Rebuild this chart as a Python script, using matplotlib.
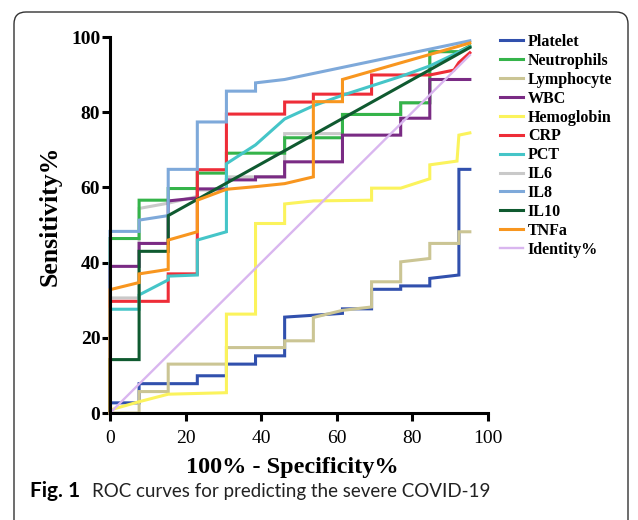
import matplotlib
matplotlib.use("Agg")
import matplotlib.pyplot as plt
from matplotlib.patches import FancyBboxPatch

# ROC vertices (100% - specificity, sensitivity) per marker
platelet_x = [0, 0, 7.7, 7.7, 23.1, 23.1, 30.8, 30.8, 38.5, 38.5, 46.2, 46.2, 61.5, 61.5, 69.2, 69.2,
              76.9, 76.9, 84.6, 84.6, 92.3, 92.3, 95.2]
platelet_y = [0, 2.7, 2.7, 7.8, 7.8, 9.9, 9.9, 13.0, 13.0, 15.2, 15.2, 25.5, 26.5, 27.7, 27.7, 32.9,
              32.9, 33.8, 33.8, 35.8, 36.7, 64.8, 64.8]

neutro_x = [0, 0, 7.7, 7.7, 15.4, 15.4, 23.1, 23.1, 30.8, 30.8, 46.2, 46.2, 61.5, 61.5, 76.9, 76.9,
            84.6, 84.6, 92.3, 95.2]
neutro_y = [0, 46.4, 46.4, 56.6, 56.6, 59.7, 59.7, 63.8, 63.8, 69.1, 69.1, 73.2, 73.2, 79.4, 79.4, 82.5,
            82.5, 96.1, 96.1, 97.6]

lympho_x = [0, 7.7, 7.7, 15.4, 15.4, 30.8, 30.8, 46.2, 46.2, 53.8, 53.8, 61.5, 69.2, 69.2, 76.9, 76.9,
            84.6, 84.6, 92.3, 92.3, 95.2]
lympho_y = [0, 0, 5.7, 5.7, 13.0, 13.0, 17.4, 17.4, 19.2, 19.2, 25.4, 27.3, 28.2, 34.9, 34.9, 40.2,
            41.1, 45.1, 45.1, 48.2, 48.2]

wbc_x = [0, 0, 7.7, 7.7, 15.4, 15.4, 23.1, 23.1, 30.8, 30.8, 38.5, 38.5, 46.2, 46.2, 61.5, 61.5,
         76.9, 76.9, 84.6, 84.6, 95.2]
wbc_y = [0, 39.0, 39.0, 45.1, 45.1, 56.4, 57.2, 59.6, 59.6, 62.0, 62.0, 62.8, 62.8, 66.8, 66.8, 73.9,
         73.9, 78.4, 78.4, 88.7, 88.7]

hemo_x = [0, 7.7, 15.4, 30.8, 30.8, 38.5, 38.5, 46.2, 46.2, 53.8, 69.2, 69.2, 76.9, 84.6, 84.6, 91.8,
          92.3, 95.2]
hemo_y = [0.8, 3.0, 5.0, 5.4, 26.3, 26.3, 50.4, 50.4, 55.6, 56.4, 56.6, 59.8, 59.8, 62.3, 66.0, 67.0,
          73.9, 74.5]

crp_x = [0, 0, 15.4, 15.4, 23.1, 23.1, 30.8, 30.8, 46.2, 46.2, 53.8, 53.8, 69.2, 69.2, 84.6, 91.0,
         92.3, 95.2]
crp_y = [0, 29.7, 29.7, 37.0, 37.0, 64.7, 64.7, 79.5, 79.5, 82.7, 82.7, 84.8, 84.8, 89.9, 89.9, 91.2,
         93.2, 95.8]

pct_x = [0, 0, 7.7, 7.7, 15.4, 15.4, 23.1, 23.1, 30.8, 30.8, 38.5, 46.2, 53.8, 61.5, 69.2, 76.9,
         84.6, 95.2]
pct_y = [0, 27.6, 27.6, 31.4, 35.4, 36.4, 36.7, 46.0, 48.2, 66.3, 71.3, 78.2, 81.7, 84.5, 87.0, 89.5,
         92.3, 97.4]

il6_x = [0, 0, 7.7, 7.7, 15.4, 23.1, 23.1, 30.8, 30.8, 46.2, 46.2, 61.5, 61.5, 76.9, 76.9, 84.6,
         84.6, 92.3, 95.2]
il6_y = [0, 30.6, 30.6, 54.4, 55.8, 57.6, 59.3, 59.3, 62.8, 62.8, 74.3, 74.3, 79.4, 79.4, 82.5, 82.5,
         96.1, 96.1, 97.6]

il8_x = [0, 0, 7.7, 7.7, 15.4, 15.4, 23.1, 23.1, 30.8, 30.8, 38.5, 38.5, 46.2, 95.2]
il8_y = [0, 48.3, 48.3, 51.3, 52.5, 64.8, 64.8, 77.4, 77.4, 85.6, 85.6, 87.8, 88.7, 99.0]

il10_x = [0, 0, 7.7, 7.7, 15.4, 15.4, 95.2]
il10_y = [0, 14.2, 14.2, 43.0, 43.0, 52.5, 97.2]

tnfa_x = [0, 0, 7.7, 7.7, 15.4, 15.4, 23.1, 23.1, 30.8, 38.5, 46.2, 53.8, 53.8, 61.5, 61.5, 95.2]
tnfa_y = [0, 32.8, 34.7, 37.0, 38.2, 46.0, 48.2, 56.6, 59.5, 60.2, 61.0, 62.8, 82.8, 82.8, 88.7, 98.4]

identity_x = [0, 95.2]
identity_y = [0, 95.2]

series = [
    ("Platelet", platelet_x, platelet_y, "#3150ad", 2.2, 3),
    ("Neutrophils", neutro_x, neutro_y, "#35b44a", 2.2, 3),
    ("Lymphocyte", lympho_x, lympho_y, "#cbc594", 2.2, 3),
    ("WBC", wbc_x, wbc_y, "#7a2b84", 2.2, 3),
    ("Hemoglobin", hemo_x, hemo_y, "#fbf35c", 2.2, 3),
    ("CRP", crp_x, crp_y, "#ee2d38", 2.2, 3),
    ("PCT", pct_x, pct_y, "#45c5c8", 2.2, 3),
    ("IL6", il6_x, il6_y, "#c9c9c9", 2.2, 2.5),
    ("IL8", il8_x, il8_y, "#7ea9da", 2.2, 3),
    ("IL10", il10_x, il10_y, "#0f5a30", 2.2, 3),
    ("TNFa", tnfa_x, tnfa_y, "#f8961f", 2.2, 3),
    ("Identity%", identity_x, identity_y, "#d9b6ef", 1.7, 3),
]

serif = "Liberation Serif"

fig = plt.figure(figsize=(6.38, 5.2), dpi=100)
ax = fig.add_axes([110 / 638, 107 / 520, 378 / 638, 376 / 520])

for name, xs, ys, color, lw, z in series:
    ax.plot(xs, ys, color=color, lw=lw, label=name, zorder=z, clip_on=False,
            solid_joinstyle="miter")

ax.set_xlim(0, 100)
ax.set_ylim(0, 100)
ax.set_xticks(range(0, 101, 20))
ax.set_yticks(range(0, 101, 20))
for side in ("top", "right"):
    ax.spines[side].set_visible(False)
for side in ("left", "bottom"):
    ax.spines[side].set_linewidth(2.2)
    ax.spines[side].set_zorder(5)
ax.tick_params(direction="out", length=5.5, width=2.2)
ax.tick_params(axis="x", pad=6.5)
ax.tick_params(axis="y", pad=1.5)
for lab in ax.get_yticklabels():
    lab.set_fontfamily(serif)
    lab.set_fontweight("bold")
    lab.set_fontsize(14)
for lab in ax.get_xticklabels():
    lab.set_fontfamily(serif)
    lab.set_fontsize(14)

fig.text(292 / 638, 1 - 468 / 520, "100% - Specificity%", family=serif, weight="bold",
         fontsize=17.5, ha="center", va="center")
fig.text(50 / 638, 1 - 216 / 520, "Sensitivity%", family=serif, weight="bold",
         fontsize=18.5, ha="center", va="center", rotation=90)

leg = ax.legend(loc="upper left", bbox_to_anchor=(500 / 638, 1 - 34 / 520),
                bbox_transform=fig.transFigure, frameon=False,
                prop={"family": serif, "weight": "bold", "size": 11.5},
                handlelength=1.45, handletextpad=0.3, labelspacing=0.18,
                borderpad=0, borderaxespad=0)

# caption underneath the plot
fig.text(30 / 638, 1 - 491 / 520, "Fig. 1", family="Lato", weight="bold",
         fontsize=15, ha="left", va="center")
fig.text(92 / 638, 1 - 491 / 520, "ROC curves for predicting the severe COVID-19",
         family="Lato", fontsize=13.5, ha="left", va="center", color="#222222")

# rounded frame around the figure
frame = FancyBboxPatch((0.14, -0.3), 6.14, 5.38, boxstyle="round,pad=0,rounding_size=0.12",
                       transform=fig.dpi_scale_trans, fill=False, lw=1.0,
                       edgecolor="#333333")
fig.patches.append(frame)

fig.savefig("out.png", dpi=100)
